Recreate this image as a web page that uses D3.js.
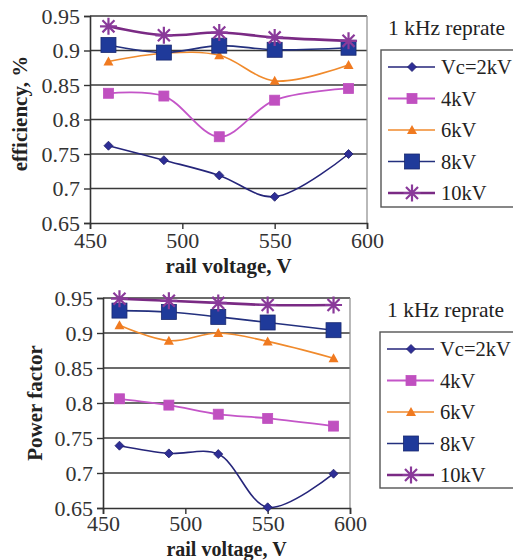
<!DOCTYPE html>
<html><head><meta charset="utf-8">
<script src="https://cdn.jsdelivr.net/npm/d3@7/dist/d3.min.js"></script>
<style>body{margin:0;background:#fff}svg{display:block}svg text{font-family:"Liberation Serif","Times New Roman",serif !important}</style>
</head><body><svg id="c" width="513" height="560"></svg>
<script>
const railVoltage = [460, 490, 520, 550, 590];
const seriesNames = ["Vc=2kV", "4kV", "6kV", "8kV", "10kV"];
const effV2 = [0.762, 0.741, 0.719, 0.688, 0.750];
const effV4 = [0.838, 0.834, 0.775, 0.828, 0.845];
const effV6 = [0.884, 0.896, 0.893, 0.856, 0.879];
const effV8 = [0.908, 0.897, 0.907, 0.901, 0.904];
const effV10 = [0.935, 0.922, 0.926, 0.919, 0.914];
const pfV2 = [0.739, 0.728, 0.727, 0.651, 0.699];
const pfV4 = [0.806, 0.797, 0.784, 0.778, 0.767];
const pfV6 = [0.911, 0.889, 0.900, 0.888, 0.864];
const pfV8 = [0.932, 0.930, 0.923, 0.915, 0.904];
const pfV10 = [0.949, 0.946, 0.943, 0.940, 0.940];
const xTicks = [450, 500, 550, 600];
const yTicks = [0.65, 0.7, 0.75, 0.8, 0.85, 0.9, 0.95];
const yTickLabels = ["0.65", "0.7", "0.75", "0.8", "0.85", "0.9", "0.95"];
const legendTitle = "1 kHz reprate";
const xTitle = "rail voltage, V";

const styles = [
  {line:"#25257a", fill:"#2e2e96", w:1.6, marker:"diamond", size:9},
  {line:"#c455c8", fill:"#c050c0", w:1.8, marker:"square", size:10},
  {line:"#f08a2c", fill:"#f07a20", w:1.6, marker:"triangle", size:10},
  {line:"#23307e", fill:"#1f3a9a", w:1.6, marker:"bigsquare", size:15},
  {line:"#7a2a84", fill:"#8a3a9a", w:2.6, marker:"star", size:17}
];

const svg = d3.select("#c");

function drawMarker(g, st, cx, cy) {
  const s = st.size;
  if (st.marker === "diamond") {
    g.append("path").attr("d", `M${cx},${cy-s/2}L${cx+s/2},${cy}L${cx},${cy+s/2}L${cx-s/2},${cy}Z`).attr("fill", st.fill).attr("stroke","#20206a").attr("stroke-width",0.8);
  } else if (st.marker === "square" || st.marker === "bigsquare") {
    g.append("rect").attr("x", cx-s/2).attr("y", cy-s/2).attr("width", s).attr("height", s).attr("fill", st.fill).attr("stroke", st.marker==="bigsquare"?"#1a2a70":st.fill).attr("stroke-width",0.8);
  } else if (st.marker === "triangle") {
    g.append("path").attr("d", `M${cx},${cy-s/2}L${cx+s/2},${cy+s/2-1}L${cx-s/2},${cy+s/2-1}Z`).attr("fill", st.fill);
  } else if (st.marker === "star") {
    const r = s/2;
    const p = d3.path();
    for (let k = 0; k < 4; k++) {
      const a = k*Math.PI/4;
      p.moveTo(cx - r*Math.cos(a), cy - r*Math.sin(a));
      p.lineTo(cx + r*Math.cos(a), cy + r*Math.sin(a));
    }
    g.append("path").attr("d", p.toString()).attr("stroke", st.fill).attr("stroke-width", 2.2).attr("fill","none");
  }
}

function chart(opt) {
  const x = d3.scaleLinear().domain([450, 600]).range([opt.x0, opt.x1]);
  const y = d3.scaleLinear().domain([0.65, 0.95]).range([opt.y1, opt.y0]);
  const g = svg.append("g");
  g.selectAll(".grid").data(yTicks.slice(1)).enter().append("line")
    .attr("x1", opt.x0).attr("x2", opt.x1).attr("y1", d=>y(d)).attr("y2", d=>y(d))
    .attr("stroke", "#3a3a3a").attr("stroke-width", 1.6);
  g.append("line").attr("x1", opt.x1).attr("x2", opt.x1).attr("y1", opt.y0).attr("y2", opt.y1).attr("stroke","#8a8a8a").attr("stroke-width",1.2);
  const ax = g.append("g").attr("transform", `translate(0,${opt.y1})`)
    .call(d3.axisBottom(x).tickValues(xTicks).tickSize(6).tickPadding(opt.xPad));
  ax.attr("font-family", null);
  ax.select(".domain").attr("stroke","#333").attr("stroke-width",1.6);
  ax.selectAll(".tick line").attr("stroke","#333").attr("stroke-width",1.4);
  ax.selectAll("text").attr("font-size", 22).attr("fill","#333");
  const ay = g.append("g").attr("transform", `translate(${opt.x0},0)`)
    .call(d3.axisLeft(y).tickValues(yTicks).tickFormat((d,i)=>yTickLabels[i]).tickSize(6).tickPadding(4));
  ay.attr("font-family", null);
  ay.select(".domain").attr("stroke","#333").attr("stroke-width",1.6);
  ay.selectAll(".tick line").attr("stroke","#333").attr("stroke-width",1.4);
  ay.selectAll("text").attr("font-size", 22).attr("fill","#333");
  g.append("text").attr("x", (opt.x0+opt.x1)/2 + opt.xtOff).attr("y", opt.xtY).attr("text-anchor","middle")
    .attr("font-size", opt.xtSize).attr("font-weight","bold").attr("fill","#222").text(xTitle);
  g.append("text").attr("transform", `translate(${opt.ytX},${(opt.y0+opt.y1)/2 + opt.ytOff}) rotate(-90)`).attr("text-anchor","middle")
    .attr("font-size", 21).attr("font-weight","bold").attr("fill","#222").text(opt.yTitle);
  const line = d3.line().x((d,i)=>x(railVoltage[i])).y(d=>y(d)).curve(d3.curveCatmullRom.alpha(0.5));
  opt.data.forEach((vals, si) => {
    const st = styles[si];
    g.append("path").attr("d", line(vals)).attr("fill","none").attr("stroke", st.line).attr("stroke-width", st.w);
  });
  opt.data.forEach((vals, si) => {
    const st = styles[si];
    vals.forEach((v,i)=> drawMarker(g, st, x(railVoltage[i]), y(v)));
  });
  g.append("text").attr("x", opt.lx + 7).attr("y", opt.ly - 15).attr("font-size", 21.5).attr("fill","#222").text(legendTitle);
  g.append("rect").attr("x", opt.lx).attr("y", opt.ly).attr("width", 160).attr("height", opt.lh)
    .attr("fill","#fff").attr("stroke","#555").attr("stroke-width",1.4);
  seriesNames.forEach((n, si) => {
    const st = styles[si];
    const yy = opt.ly + 17 + si*31.5;
    g.append("line").attr("x1", opt.lx+7).attr("x2", opt.lx+54).attr("y1", yy).attr("y2", yy).attr("stroke", st.line).attr("stroke-width", st.w);
    drawMarker(g, st, opt.lx+31, yy);
    g.append("text").attr("x", opt.lx+60).attr("y", yy+7).attr("font-size", 20.5).attr("fill","#222").text(n);
  });
}

chart({x0:90, x1:367, y0:16, y1:223, xPad:3, xtY:273, xtSize:21, xtOff:0, ytX:27, ytOff:-6, yTitle:"efficiency, %",
  data:[effV2, effV4, effV6, effV8, effV10], lx:381, ly:50, lh:157});
chart({x0:103, x1:350, y0:298, y1:508, xPad:1, xtY:556, xtSize:20, xtOff:0, ytX:42, ytOff:0, yTitle:"Power factor",
  data:[pfV2, pfV4, pfV6, pfV8, pfV10], lx:380, ly:332, lh:156});
</script></body></html>
